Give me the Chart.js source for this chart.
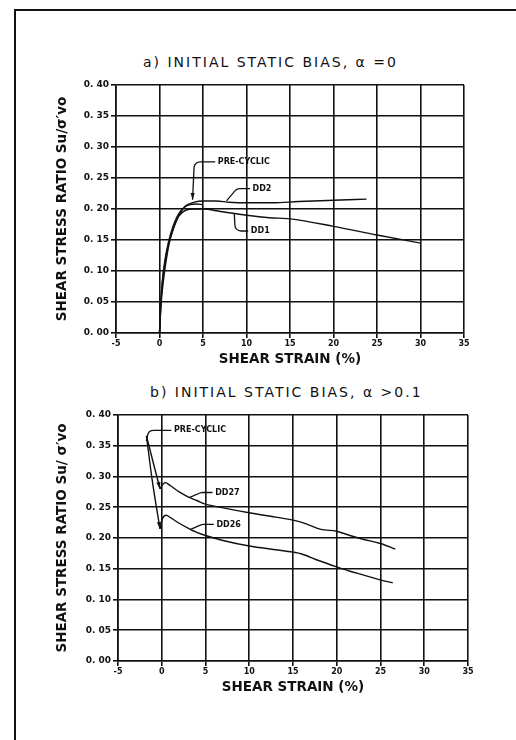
<!DOCTYPE html>
<html>
<head>
<meta charset="utf-8">
<title>Shear stress ratio vs shear strain</title>
<script src="https://cdn.jsdelivr.net/npm/chart.js@4.4.0/dist/chart.umd.min.js"></script>
<style>
  html, body { margin: 0; padding: 0; background: #fff; }
  body { width: 516px; height: 740px; position: relative; overflow: hidden; font-family: "DejaVu Sans", sans-serif; color: #111; }
  .frame { position: absolute; left: 14px; top: 9px; right: -4px; bottom: -4px; border-left: 2px solid #111; border-top: 2px solid #111; }
  .title { position: absolute; font-size: 14px; letter-spacing: 2px; line-height: 16px; white-space: nowrap; }
  canvas { position: absolute; left: 0; }
</style>
</head>
<body>
<div class="frame"></div>
<div class="title" style="left:143px; top:54px;">a) INITIAL STATIC BIAS, α =0</div>
<div class="title" style="left:150px; top:384px;">b) INITIAL STATIC BIAS, α &gt;0.1</div>
<canvas id="chartA" width="516" height="332" style="top:40px"></canvas>
<canvas id="chartB" width="516" height="330" style="top:372px"></canvas>
<script>
// axis ticks
const strainTicks = [-5, 0, 5, 10, 15, 20, 25, 30, 35];
const ratioTicks = [0, 0.05, 0.10, 0.15, 0.20, 0.25, 0.30, 0.35, 0.40];

// a) initial static bias, alpha = 0
const preAStrain = [0, 0.1, 0.3, 0.6, 1, 1.5, 2, 2.5, 3, 3.5, 4.2, 5];
const preARatio = [0, 0.03, 0.08, 0.115, 0.145, 0.17, 0.187, 0.198, 0.204, 0.207, 0.208, 0.207];
const dd2Strain = [0, 0.15, 0.4, 0.7, 1, 1.5, 2, 2.5, 3, 4, 5, 6.5, 8, 10, 13, 16, 20, 23.8];
const dd2Ratio = [0, 0.05, 0.09, 0.12, 0.14, 0.165, 0.183, 0.196, 0.205, 0.211, 0.213, 0.213, 0.211, 0.210, 0.210, 0.212, 0.214, 0.216];
const dd1Strain = [0, 0.2, 0.5, 0.8, 1.2, 1.7, 2.2, 3, 4, 5, 7, 10, 12.6, 15, 20, 25, 30];
const dd1Ratio = [0, 0.05, 0.09, 0.12, 0.15, 0.172, 0.188, 0.198, 0.200, 0.200, 0.196, 0.190, 0.186, 0.184, 0.172, 0.158, 0.145];

// b) initial static bias, alpha > 0.1
const preB1Strain = [-1.75, -1, -0.2];
const preB1Ratio = [0.366, 0.324, 0.28];
const preB2Strain = [-1.75, -1.1, -0.2];
const preB2Ratio = [0.366, 0.295, 0.215];
const dd27Strain = [-0.2, 0.1, 0.4, 1, 2, 3, 4, 5, 7, 10, 13, 15, 16.5, 18.2, 20, 21.5, 23, 25, 26.7];
const dd27Ratio = [0.28, 0.287, 0.29, 0.285, 0.275, 0.267, 0.261, 0.255, 0.249, 0.241, 0.234, 0.229, 0.223, 0.214, 0.211, 0.204, 0.198, 0.191, 0.182];
const dd26Strain = [-0.2, 0.1, 0.5, 1, 2, 3, 4, 5, 7, 10, 13, 15, 16, 18, 20, 21.5, 23, 25, 26.4];
const dd26Ratio = [0.215, 0.232, 0.237, 0.233, 0.224, 0.216, 0.209, 0.204, 0.196, 0.187, 0.181, 0.177, 0.174, 0.163, 0.153, 0.146, 0.140, 0.132, 0.127];

// callout labels, in data units: text anchor, then leader start / corner / tip
const notesA = [
  { text: 'PRE-CYCLIC', at: [6.7, 0.276], path: [[6.4, 0.276], [4.0, 0.276], [3.8, 0.215]] },
  { text: 'DD2', at: [10.7, 0.233], path: [[10.4, 0.233], [8.9, 0.233], [7.7, 0.213]] },
  { text: 'DD1', at: [10.5, 0.1645], path: [[10.2, 0.1645], [8.7, 0.1645], [8.6, 0.192]] }
];
const arrowsA = [[[3.82, 0.235], [3.8, 0.215]]];
const notesB = [
  { text: 'PRE-CYCLIC', at: [1.4, 0.375], path: [[1.1, 0.375], [-1.5, 0.375], [-1.75, 0.358]] },
  { text: 'DD27', at: [6.1, 0.274], path: [[5.8, 0.274], [4.5, 0.274], [3.2, 0.266]] },
  { text: 'DD26', at: [6.25, 0.222], path: [[5.95, 0.222], [4.6, 0.222], [3.3, 0.214]] }
];
const arrowsB = [[[-1, 0.324], [-0.2, 0.28]], [[-1.1, 0.295], [-0.2, 0.215]]];

const INK = '#111';

function series(label, xs, ys) {
  return {
    label: label,
    data: xs.map((x, i) => ({ x: x, y: ys[i] })),
    showLine: true,
    borderColor: INK,
    borderWidth: 1.4,
    pointRadius: 0,
    cubicInterpolationMode: 'monotone'
  };
}

// leader lines, labels and arrow heads
function notesPlugin(items, arrows) {
  return {
    id: 'notes',
    afterDatasetsDraw(chart) {
      const { ctx, scales: { x, y } } = chart;
      const px = p => [x.getPixelForValue(p[0]), y.getPixelForValue(p[1])];
      ctx.save();
      ctx.strokeStyle = INK;
      ctx.fillStyle = INK;
      ctx.lineWidth = 1.3;
      ctx.font = 'bold 8px "DejaVu Sans"';
      ctx.textBaseline = 'middle';
      items.forEach(n => {
        const [a, b, c] = n.path.map(px);
        ctx.beginPath();
        ctx.moveTo(a[0], a[1]);
        ctx.arcTo(b[0], b[1], c[0], c[1], 6);
        ctx.lineTo(c[0], c[1]);
        ctx.stroke();
        const t = px(n.at);
        ctx.fillText(n.text, t[0], t[1]);
      });
      arrows.forEach(([from, to]) => {
        const [x0, y0] = px(from);
        const [x1, y1] = px(to);
        const ang = Math.atan2(y1 - y0, x1 - x0);
        ctx.beginPath();
        ctx.moveTo(x1, y1);
        ctx.lineTo(x1 - 7 * Math.cos(ang - 0.3), y1 - 7 * Math.sin(ang - 0.3));
        ctx.lineTo(x1 - 7 * Math.cos(ang + 0.3), y1 - 7 * Math.sin(ang + 0.3));
        ctx.closePath();
        ctx.fill();
      });
      ctx.restore();
    }
  };
}

function buildChart(id, datasets, box, items, arrows) {
  const grid = { color: INK, lineWidth: 1.6, tickLength: 5, drawTicks: true };
  const border = { color: INK, width: 1.6 };
  const xTickFont = { family: '"DejaVu Sans"', size: 8, weight: 'bold' };
  const yTickFont = { family: '"DejaVu Sans"', size: 9, weight: 'bold' };
  const titleFont = { family: '"DejaVu Sans"', size: 13.5, weight: 'bold' };
  return new Chart(document.getElementById(id), {
    type: 'scatter',
    data: { datasets: datasets },
    options: {
      responsive: false,
      animation: false,
      layout: { padding: { top: box.top, right: box.right, left: 0, bottom: 0 } },
      plugins: { legend: { display: false }, tooltip: { enabled: false } },
      scales: {
        x: {
          type: 'linear', min: -5, max: 35,
          afterBuildTicks: s => { s.ticks = strainTicks.map(v => ({ value: v })); },
          afterFit: s => { s.height = box.xHeight; },
          grid: grid, border: border,
          ticks: { color: INK, font: xTickFont, padding: 1, maxRotation: 0, autoSkip: false },
          title: { display: true, text: 'SHEAR STRAIN (%)', color: INK, font: titleFont, padding: { top: 0, bottom: box.xTitlePad } }
        },
        y: {
          type: 'linear', min: 0, max: 0.4,
          afterBuildTicks: s => { s.ticks = ratioTicks.map(v => ({ value: v })); },
          afterFit: s => { s.width = box.yWidth; },
          grid: grid, border: border,
          ticks: { color: INK, font: yTickFont, padding: 2, autoSkip: false,
                   callback: v => v.toFixed(2).replace('.', '. ') },
          title: { display: true, text: box.yTitle, color: INK, font: titleFont, padding: { top: 54, bottom: 0 } }
        }
      }
    },
    plugins: [notesPlugin(items, arrows)]
  });
}

buildChart('chartA', [
  series('PRE-CYCLIC', preAStrain, preARatio),
  series('DD2', dd2Strain, dd2Ratio),
  series('DD1', dd1Strain, dd1Ratio)
], { top: 45, right: 52, yWidth: 116, xHeight: 39, xTitlePad: 4, yTitle: 'SHEAR STRESS RATIO Su/σ′vo' }, notesA, arrowsA);

buildChart('chartB', [
  series('PRE-CYCLIC', preB1Strain, preB1Ratio),
  series('PRE-CYCLIC', preB2Strain, preB2Ratio),
  series('DD27', dd27Strain, dd27Ratio),
  series('DD26', dd26Strain, dd26Ratio)
], { top: 43, right: 48, yWidth: 118, xHeight: 41, xTitlePad: 6, yTitle: 'SHEAR STRESS RATIO Su/ σ′vo' }, notesB, arrowsB);
</script>
</body>
</html>
